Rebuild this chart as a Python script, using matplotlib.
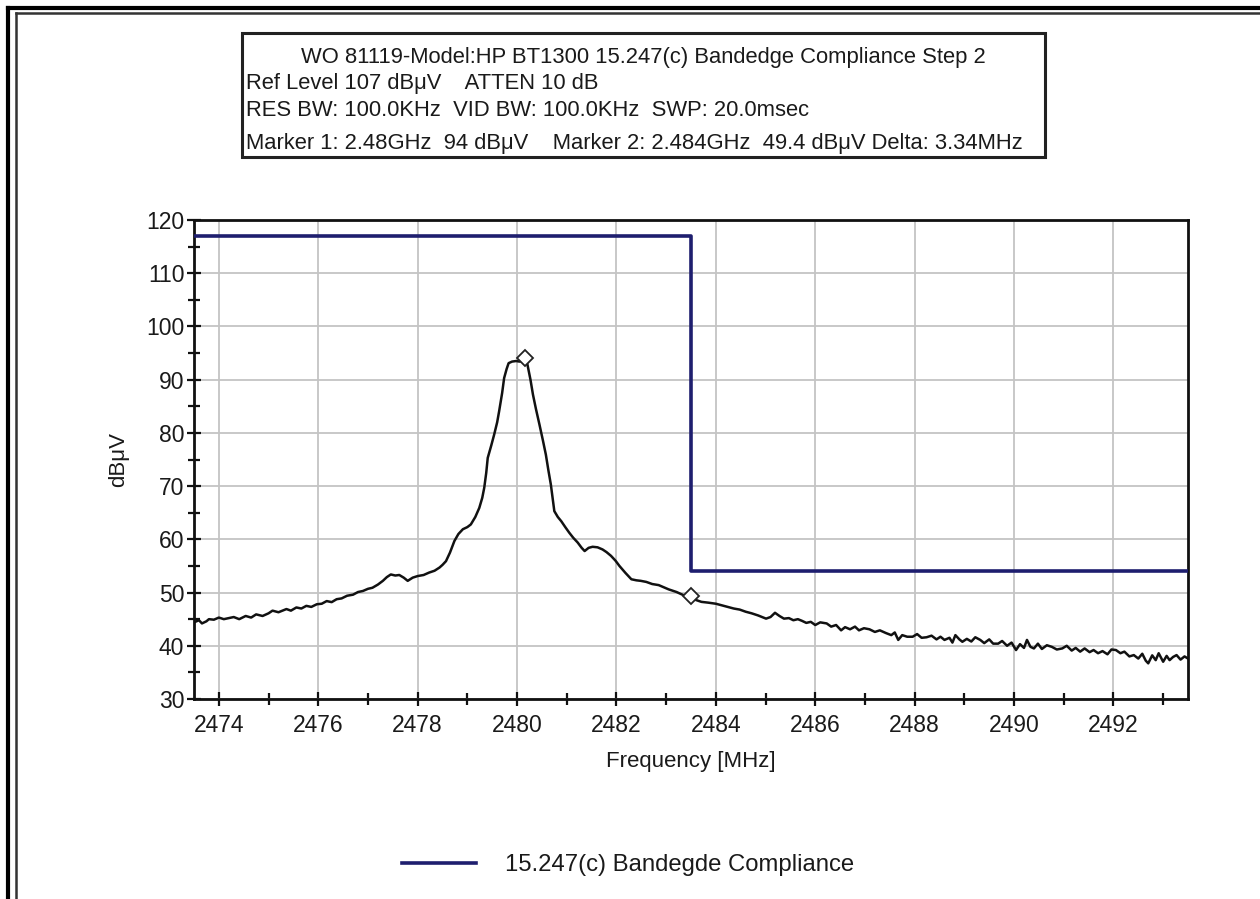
import matplotlib
matplotlib.use("Agg")
import matplotlib.pyplot as plt
from matplotlib.lines import Line2D
from matplotlib.patches import Rectangle
from matplotlib.ticker import MultipleLocator

plt.rcParams['font.family'] = ['Liberation Sans', 'DejaVu Sans']

# Measured sweep (MHz, dBuV)
freq_mhz = [
    2473.50, 2473.60, 2473.66, 2473.75, 2473.80, 2473.90, 2474.00, 2474.10, 2474.20, 2474.30,
    2474.41, 2474.54, 2474.65, 2474.75, 2474.88, 2475.00, 2475.08, 2475.20, 2475.36, 2475.45,
    2475.56, 2475.66, 2475.76, 2475.86, 2475.97, 2476.07, 2476.17, 2476.27, 2476.37, 2476.47,
    2476.58, 2476.70, 2476.80, 2476.90, 2477.00, 2477.09, 2477.20, 2477.30, 2477.38, 2477.46,
    2477.55, 2477.63, 2477.72, 2477.80, 2477.90, 2478.00, 2478.12, 2478.23, 2478.34, 2478.44,
    2478.50, 2478.57, 2478.65, 2478.74, 2478.82, 2478.91, 2479.00, 2479.07, 2479.16, 2479.24,
    2479.30, 2479.34, 2479.38, 2479.41, 2479.48, 2479.54, 2479.60, 2479.64, 2479.70, 2479.74,
    2479.79, 2479.83, 2479.90, 2479.98, 2480.05, 2480.11, 2480.17, 2480.21, 2480.27, 2480.32,
    2480.38, 2480.45, 2480.52, 2480.58, 2480.63, 2480.68, 2480.75, 2480.82, 2480.89, 2480.97,
    2481.05, 2481.13, 2481.22, 2481.30, 2481.36, 2481.44, 2481.52, 2481.62, 2481.72, 2481.80,
    2481.89, 2481.98, 2482.06, 2482.18, 2482.30, 2482.40, 2482.49, 2482.60, 2482.72, 2482.85,
    2482.95, 2483.05, 2483.21, 2483.35, 2483.50, 2483.60, 2483.71, 2483.85, 2484.00, 2484.12,
    2484.24, 2484.36, 2484.48, 2484.60, 2484.72, 2484.85, 2485.01, 2485.10, 2485.19, 2485.28,
    2485.37, 2485.47, 2485.56, 2485.65, 2485.73, 2485.82, 2485.91, 2486.00, 2486.10, 2486.23,
    2486.32, 2486.42, 2486.52, 2486.60, 2486.70, 2486.80, 2486.88, 2486.98, 2487.09, 2487.20,
    2487.30, 2487.42, 2487.53, 2487.60, 2487.67, 2487.75, 2487.85, 2487.96, 2488.05, 2488.14,
    2488.24, 2488.34, 2488.44, 2488.52, 2488.60, 2488.70, 2488.76, 2488.82, 2488.90, 2488.96,
    2489.05, 2489.14, 2489.22, 2489.32, 2489.40, 2489.50, 2489.58, 2489.68, 2489.76, 2489.86,
    2489.95, 2490.04, 2490.12, 2490.20, 2490.26, 2490.33, 2490.40, 2490.48, 2490.56, 2490.66,
    2490.76, 2490.86, 2490.97, 2491.06, 2491.16, 2491.24, 2491.33, 2491.42, 2491.52, 2491.60,
    2491.69, 2491.78, 2491.88, 2491.96, 2492.05, 2492.14, 2492.22, 2492.32, 2492.41, 2492.50,
    2492.58, 2492.65, 2492.70, 2492.78, 2492.85, 2492.91, 2493.00, 2493.07, 2493.13, 2493.20,
    2493.27, 2493.35, 2493.43, 2493.50,
]
level_dbuv = [
    44.4, 44.8, 44.2, 44.6, 45.0, 44.9, 45.3, 45.0, 45.2, 45.4,
    45.0, 45.6, 45.3, 45.9, 45.6, 46.1, 46.6, 46.3, 46.9, 46.6,
    47.2, 47.0, 47.5, 47.3, 47.8, 47.9, 48.4, 48.2, 48.75, 48.9,
    49.4, 49.6, 50.1, 50.3, 50.7, 50.9, 51.5, 52.2, 52.9, 53.4,
    53.2, 53.3, 52.8, 52.2, 52.8, 53.1, 53.3, 53.75, 54.1, 54.7,
    55.2, 55.9, 57.5, 59.7, 61.0, 61.9, 62.3, 62.8, 64.2, 65.9,
    67.8, 69.7, 72.5, 75.3, 77.6, 79.7, 82.0, 84.1, 87.5, 90.3,
    92.0, 93.1, 93.4, 93.5, 93.4, 93.6, 94.0, 92.8, 90.0, 87.2,
    84.5, 81.6, 78.6, 75.9, 73.0, 70.3, 65.3, 64.2, 63.4, 62.3,
    61.25, 60.3, 59.4, 58.4, 57.8, 58.4, 58.6, 58.5, 58.1, 57.6,
    56.9, 56.0, 55.0, 53.7, 52.5, 52.3, 52.2, 52.0, 51.6, 51.4,
    51.0, 50.6, 50.1, 49.5, 49.4, 48.6, 48.25, 48.1, 47.9, 47.6,
    47.3, 47.0, 46.8, 46.4, 46.1, 45.7, 45.1, 45.4, 46.2, 45.6,
    45.1, 45.2, 44.8, 45.0, 44.7, 44.3, 44.5, 43.9, 44.4, 44.2,
    43.6, 43.9, 42.9, 43.5, 43.1, 43.6, 42.9, 43.3, 43.1, 42.6,
    42.9, 42.4, 42.0, 42.5, 41.1, 42.0, 41.7, 41.7, 42.2, 41.5,
    41.6, 41.9, 41.2, 41.7, 41.1, 41.5, 40.6, 42.0, 41.2, 40.75,
    41.3, 40.8, 41.6, 41.1, 40.5, 41.2, 40.4, 40.4, 40.9, 40.0,
    40.6, 39.2, 40.3, 39.6, 41.1, 39.8, 39.5, 40.4, 39.4, 40.1,
    39.8, 39.3, 39.5, 40.0, 39.1, 39.6, 38.9, 39.5, 38.8, 39.2,
    38.6, 39.0, 38.4, 39.3, 39.2, 38.6, 38.9, 38.0, 38.25, 37.6,
    38.5, 37.2, 36.7, 38.2, 37.3, 38.6, 37.0, 38.1, 37.3, 37.9,
    38.25, 37.4, 38.0, 37.6,
]

# 15.247(c) band-edge limit: level applies from each edge frequency onwards
limit_edges_mhz = [2473.5, 2483.5, 2493.5]
limit_levels_dbuv = [117, 54, 54]

# Analyzer markers
marker_freq_mhz = [2480.17, 2483.51]
marker_level_dbuv = [94.0, 49.4]

title_lines = [
    "WO 81119-Model:HP BT1300 15.247(c) Bandedge Compliance Step 2",
    "Ref Level 107 dB\u03bcV    ATTEN 10 dB",
    "RES BW: 100.0KHz  VID BW: 100.0KHz  SWP: 20.0msec",
    "Marker 1: 2.48GHz  94 dB\u03bcV    Marker 2: 2.484GHz  49.4 dB\u03bcV Delta: 3.34MHz",
]
legend_label = "15.247(c) Bandegde Compliance"

W, H = 1260, 899
fig = plt.figure(figsize=(W / 100, H / 100), dpi=100, facecolor="white")

def px(x, y):
    return x / W, 1 - y / H

# Double frame on the top and left edges
for xs, ys, lw, col in [
    ([7.5, 7.5], [899, 7.5], 3.0, "black"),
    ([7.5, 1260], [7.5, 7.5], 3.0, "black"),
    ([15.5, 15.5], [899, 13], 1.8, "#333333"),
    ([15.5, 1260], [13, 13], 1.8, "#333333"),
]:
    fig.add_artist(Line2D([x / W for x in xs], [1 - y / H for y in ys],
                          lw=lw, color=col, transform=fig.transFigure))

# Header box with sweep settings
bx0, by0, bx1, by1 = 242, 33, 1045, 157
fig.add_artist(Rectangle(px(bx0, by1), (bx1 - bx0) / W, (by1 - by0) / H,
                         transform=fig.transFigure, fill=False,
                         edgecolor="#222222", lw=2.2))
txt_col = "#1a1a1a"
fs_head = 15.8
fig.text(*px(643, 57), title_lines[0], ha="center", va="center",
         fontsize=fs_head, color=txt_col)
for yy, line in zip([83, 111, 144], title_lines[1:]):
    fig.text(*px(246, yy), line, ha="left", va="center",
             fontsize=fs_head, color=txt_col)

ax = fig.add_axes([194 / W, 1 - 699 / H, (1188 - 194) / W, (699 - 220) / H])
ax.set_xlim(2473.5, 2493.5)
ax.set_ylim(30, 120)

ax.xaxis.set_major_locator(MultipleLocator(2))
ax.xaxis.set_minor_locator(MultipleLocator(1))
ax.yaxis.set_major_locator(MultipleLocator(10))
ax.yaxis.set_minor_locator(MultipleLocator(5))
ax.grid(True, which="major", color="#c4c4c4", lw=1.3)
ax.set_axisbelow(True)

for sp in ax.spines.values():
    sp.set_linewidth(2.0)
    sp.set_color("#111111")
ax.tick_params(which="both", direction="inout", width=1.6, color="#111111",
               labelsize=16.5, labelcolor=txt_col, top=False, right=False)
ax.tick_params(which="major", length=10)
ax.tick_params(axis="x", which="major", pad=6)
ax.tick_params(axis="y", which="major", pad=2)
ax.tick_params(which="minor", length=9)

ax.plot(freq_mhz, level_dbuv, color="#111111", lw=1.8, zorder=3)
lim, = ax.step(limit_edges_mhz, limit_levels_dbuv, where="post",
               color="#1e1e6e", lw=2.6, zorder=4, label=legend_label)
ax.plot(marker_freq_mhz, marker_level_dbuv, linestyle="none", marker="D",
        markersize=8, markerfacecolor="white", markeredgecolor="#222222",
        markeredgewidth=1.3, zorder=5)

ax.set_xlabel("Frequency [MHz]", fontsize=16, color=txt_col, labelpad=10)
ax.set_ylabel("dB\u03bcV", fontsize=16, color=txt_col, labelpad=12)

fig.legend(handles=[lim], loc="center", bbox_to_anchor=px(628, 865),
           frameon=False, fontsize=17.2, handlelength=3.1, handletextpad=1.2,
           labelcolor=txt_col)

fig.savefig("out.png", dpi=100, facecolor="white")
